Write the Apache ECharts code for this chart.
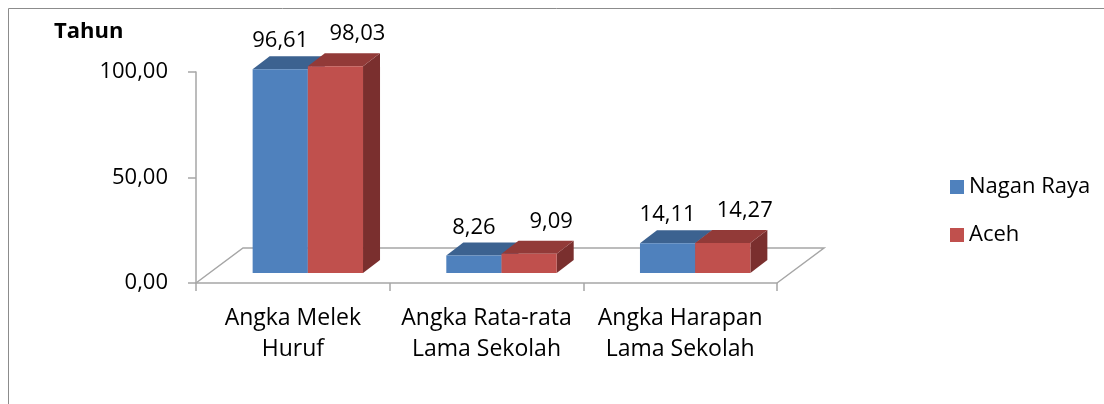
<!DOCTYPE html>
<html><head><meta charset="utf-8">
<script src="https://cdn.jsdelivr.net/npm/echarts@6/dist/echarts.min.js"></script>
<style>html,body{margin:0;padding:0;background:#fff}#c{width:1104px;height:404px}</style>
</head><body><div id="c"></div>
<script>
const categories = ['Angka Melek\nHuruf', 'Angka Rata-rata\nLama Sekolah', 'Angka Harapan\nLama Sekolah'];
const seriesNames = ['Nagan Raya', 'Aceh'];
const naganRaya = [96.61, 8.26, 14.11];
const aceh = [98.03, 9.09, 14.27];
const yAxisName = 'Tahun';

const FONT = 'Open Sans';
const fmt = v => v.toFixed(2).replace('.', ',');

const FRONT = ['#4F81BD', '#C0504D'];
const TOP = ['#3C6290', '#923A38'];
const SIDE = ['#385A85', '#7A2F2E'];
const GRAY = '#A6A6A6';

const FLOOR_DX = 47, FLOOR_DY = -35;
const OFF_DX = 15, OFF_DY = -10;
const BAR_DX = 17, BAR_DY = -13;
const LABEL_OFF = [[0, -28], [22, -32]];

function barRender(s) {
  return function (params, api) {
    const idx = api.value(0), val = api.value(1);
    const base = api.coord([idx, 0]);
    const top = api.coord([idx, val]);
    const band = api.size([1, 0])[0];
    const w = band * 0.285;
    const x0 = base[0] + OFF_DX - w + s * w;
    const x1 = x0 + w;
    const b = base[1] + OFF_DY;
    const t = top[1] + OFF_DY;
    return {
      type: 'group',
      children: [
        { type: 'polygon', shape: { points: [[x1, t], [x1 + BAR_DX, t + BAR_DY], [x1 + BAR_DX, b + BAR_DY], [x1, b]] }, style: { fill: SIDE[s] } },
        { type: 'polygon', shape: { points: [[x0, t], [x1, t], [x1 + BAR_DX, t + BAR_DY], [x0 + BAR_DX, t + BAR_DY]] }, style: { fill: TOP[s] } },
        { type: 'rect', shape: { x: x0, y: t, width: w, height: b - t }, style: { fill: FRONT[s] } },
        { type: 'text', x: x0 + w / 2 + LABEL_OFF[s][0], y: t + LABEL_OFF[s][1],
          style: { text: fmt(val), fontFamily: FONT, fontSize: 22, fill: '#000', align: 'center', verticalAlign: 'middle' } }
      ]
    };
  };
}

function floorRender(params, api) {
  const cs = params.coordSys;
  const yb = cs.y + cs.height;
  return {
    type: 'polyline',
    shape: { points: [[cs.x, yb], [cs.x + FLOOR_DX, yb + FLOOR_DY], [cs.x + cs.width + FLOOR_DX, yb + FLOOR_DY], [cs.x + cs.width, yb]] },
    style: { stroke: GRAY, lineWidth: 1.5, fill: null }
  };
}

const chart = echarts.init(document.getElementById('c'));
chart.setOption({
  animation: false,
  title: { text: yAxisName, left: 49, top: 16, textStyle: { fontFamily: FONT, fontSize: 22, fontWeight: 'bold', color: '#000' } },
  graphic: [{ type: 'rect', shape: { x: 8.5, y: 8.5, width: 1200, height: 500 }, style: { stroke: '#8C8C8C', fill: null, lineWidth: 1 } }],
  legend: {
    data: seriesNames, orient: 'vertical', left: 945, top: 171, itemWidth: 14, itemHeight: 14, itemGap: 26, icon: 'rect',
    textStyle: { fontFamily: FONT, fontSize: 22, color: '#000' }
  },
  grid: { left: 196, top: 72, width: 581, height: 211 },
  xAxis: {
    type: 'category', data: categories,
    axisLine: { lineStyle: { color: GRAY, width: 1.5 } },
    axisTick: { show: true, length: 8, interval: 0, lineStyle: { color: GRAY, width: 1.5 } },
    axisLabel: { interval: 0, margin: 20, fontFamily: FONT, fontSize: 23, lineHeight: 31, color: '#000' }
  },
  yAxis: {
    type: 'value', min: 0, max: 100, interval: 50,
    axisLine: { show: true, lineStyle: { color: GRAY, width: 1.5 } },
    axisTick: { show: true, length: 8, lineStyle: { color: GRAY, width: 1.5 } },
    splitLine: { show: false },
    axisLabel: { margin: 28, fontFamily: FONT, fontSize: 22, color: '#000', formatter: v => fmt(v) }
  },
  series: [
    { type: 'custom', name: '_floor', renderItem: floorRender, data: [[0]], z: 1, silent: true, clip: false },
    { type: 'custom', name: seriesNames[0], renderItem: barRender(0), itemStyle: { color: FRONT[0] },
      data: naganRaya.map((v, i) => [i, v]), encode: { x: 0, y: 1 }, z: 2, clip: false },
    { type: 'custom', name: seriesNames[1], renderItem: barRender(1), itemStyle: { color: FRONT[1] },
      data: aceh.map((v, i) => [i, v]), encode: { x: 0, y: 1 }, z: 3, clip: false }
  ]
});
</script></body></html>
